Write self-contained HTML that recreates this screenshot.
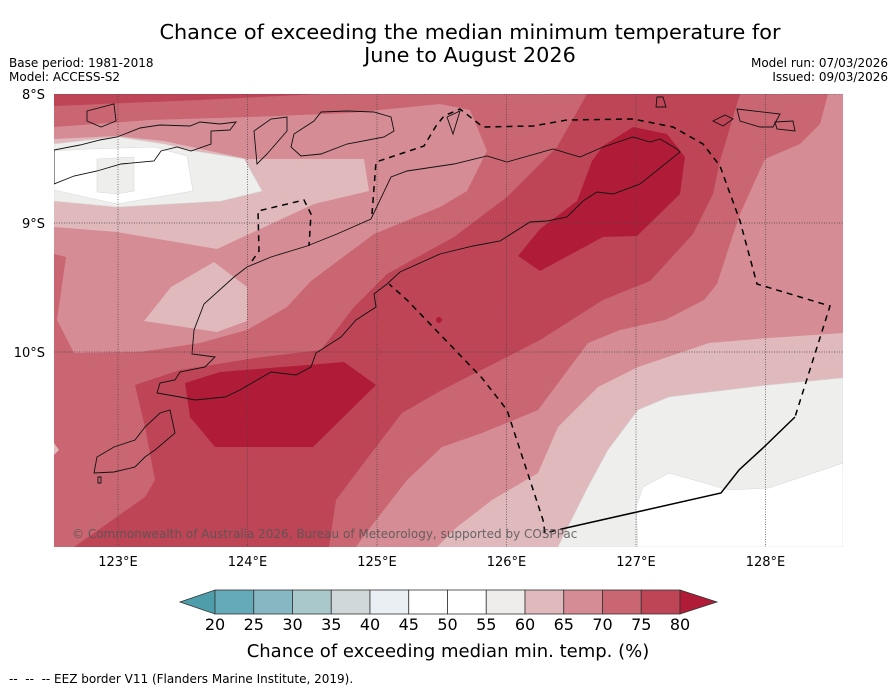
<!DOCTYPE html>
<html><head><meta charset="utf-8">
<style>
html,body{margin:0;padding:0;background:#fff;}
body{width:896px;height:690px;overflow:hidden;font-family:"DejaVu Sans","Liberation Sans",sans-serif;}
svg text{font-family:"DejaVu Sans","Liberation Sans",sans-serif;}
</style></head>
<body>
<svg id="fig" width="896" height="690" viewBox="0 0 896 690" xmlns="http://www.w3.org/2000/svg">
<text x="470" y="39" font-size="20.8" text-anchor="middle" fill="#000">Chance of exceeding the median minimum temperature for</text>
<text x="470" y="62" font-size="20.8" text-anchor="middle" fill="#000">June to August 2026</text>
<text x="9" y="67" font-size="12">Base period: 1981-2018</text>
<text x="9" y="81" font-size="12">Model: ACCESS-S2</text>
<text x="888" y="67" font-size="12" text-anchor="end">Model run: 07/03/2026</text>
<text x="888" y="81" font-size="12" text-anchor="end">Issued: 09/03/2026</text>

<defs><clipPath id="mapclip"><rect x="54" y="94" width="789" height="453"/></clipPath></defs>
<g clip-path="url(#mapclip)">
<rect x="54" y="94" width="789" height="453" fill="#c96672"/>
<polygon fill="#bd4556" points="54,94 320,94 200,100 54,106"/>
<polygon fill="#d58c94" points="54,127 150,120 250,117 350,113 440,104 470,110 487,151 467,191 440,207 374,234 311,281 287,307 247,330 200,343 140,352 74,353 57,320 66,257 54,254"/>
<polygon fill="#e0b9bd" points="54,139 117,136 164,141 247,159 364,159 369,191 314,204 217,249 117,232 54,227"/>
<polygon fill="#e0b9bd" points="144,321 171,287 214,262 247,287 247,321 217,332"/>
<polygon fill="#eeeeec" stroke="#d8dcdc" stroke-width="0.6" points="54,144 117,137 164,144 194,151 244,159 262,191 221,201 117,207 54,201"/>
<polygon fill="#ffffff" stroke="#d8dcdc" stroke-width="0.6" points="54,151 90,149 154,147 187,156 193,191 117,204 54,190"/>
<polygon fill="#eeeeec" stroke="#d8dcdc" stroke-width="0.6" points="97,159 134,157 134,191 117,194 97,192"/>
<polygon fill="#bd4556" points="587,94 740,94 720,161 713,194 693,234 650,281 603,300 540,340 507,357 442,390 402,413 366,460 336,500 329,547 74,547 145,497 155,480 145,427 135,385 180,370 255,358 321,350 354,307 387,274 454,237 507,197 557,147"/>
<polygon fill="#b01c38" points="633,127 667,134 685,157 680,194 637,236 603,237 540,271 518,256 540,229 577,201 592,161 603,146"/>
<polygon fill="#b01c38" points="185,383 220,372 344,362 376,385 313,447 215,447 190,417"/>
<circle cx="439" cy="320" r="3" fill="#b01c38"/>
<polygon fill="#d58c94" points="828,94 843,94 843,547 356,547 366,533 407,480 442,447 482,433 538,410 588,343 620,330 665,320 704,300 717,284 730,244 740,214 765,159 800,144 820,124"/>
<polygon fill="#e0b9bd" points="843,333 769,338 709,343 638,367 598,387 558,427 538,473 492,500 457,527 437,547 843,547"/>
<polygon fill="#eeeeec" stroke="#d8dcdc" stroke-width="0.6" points="843,378 769,385 669,397 638,410 608,450 588,487 568,527 558,547 843,547"/>
<polygon fill="#ffffff" stroke="#d8dcdc" stroke-width="0.6" points="843,463 769,488 729,490 669,473 643,487 636,507 638,547 843,547"/>
<polygon fill="#e0b9bd" points="54,443 59,450 54,455"/>

<g id="grid" stroke="#444" stroke-width="0.7" stroke-dasharray="1,1.5" fill="none"></g>

<g fill="none" stroke="#111" stroke-width="0.9">
<polygon points="180,397 157,393 160,383 175,380 180,372 205,367 215,357 192,354 194,330 204,304 234,277 247,267 271,257 307,246 337,234 371,219 391,177 407,171 454,164 487,156 507,162 553,149 580,157 603,147 633,137 650,142 660,139 677,149 680,152 640,184 613,194 597,192 583,201 567,217 547,221 530,222 500,241 473,246 440,254 400,272 387,284 374,294 376,307 356,320 341,337 316,353 311,367 296,375 271,372 240,390 225,397 195,400"/>
<polygon points="170,410 175,433 155,450 145,457 135,467 114,472 94,473 97,457 114,447 135,440 145,427 160,413"/>
<polygon points="98,477 101,477 101,483 98,483"/>
<polygon points="54,150 80,145 100,140 117,137 140,128 160,125 190,126 200,122 220,124 236,122 230,130 211,131 211,144 191,151 177,147 161,151 154,161 121,164 97,171 74,176 54,184"/>
<polygon points="291,147 294,134 314,121 321,112 347,111 374,112 391,117 394,131 384,137 347,144 321,154 301,156"/>
<polygon points="254,131 271,119 287,117 287,131 267,154 257,164"/>
<polygon points="87,111 114,104 116,121 101,127 87,121"/>
<polygon points="657,97 663,97 666,107 656,107"/>
<polygon points="737,109 780,114 773,127 760,127 740,121"/>
<polygon points="713,121 725,115 733,119 723,126"/>
<polygon points="775,122 793,121 795,131 777,129"/>
<polygon points="447,117 460,111 453,134"/>
</g>

<g fill="none" stroke="#000" stroke-width="1.5">
<polyline stroke-dasharray="6,5" points="372,214 376,162 424,146 436,126 444,116 460,109 483,127 533,126 567,120 633,119 673,127 703,144 720,166 740,221 757,284 830,306 795,417"/>
<polyline points="795,417 764,447 739,470 721,493 566,528"/>
<polyline stroke-dasharray="6,5" points="566,528 545,533 543,520 507,410 482,378 407,300 389,284"/>
<polyline stroke-dasharray="6,5" points="252,261 259,251 258,211 304,200 311,214 309,246"/>
</g>
<text x="72" y="538" font-size="12" fill="#555" fill-opacity="0.85">© Commonwealth of Australia 2026, Bureau of Meteorology, supported by COSPPac</text>
</g>

<g id="axes" font-size="13" fill="#000"></g>
<g id="cbar"></g>
<text x="448" y="657" font-size="18" text-anchor="middle">Chance of exceeding median min. temp. (%)</text>
<text x="9" y="683" font-size="12" xml:space="preserve">--  --  -- EEZ border V11 (Flanders Marine Institute, 2019).</text>
</svg>
<script>
const lonTicks = [123, 124, 125, 126, 127, 128];
const latTicks = [8, 9, 10];
const cbLevels = [20, 25, 30, 35, 40, 45, 50, 55, 60, 65, 70, 75, 80];
const cbColors = ["#64aab8", "#87b7c2", "#a8c8cc", "#d0d7d9", "#e9eff2", "#ffffff", "#ffffff", "#eeedeb", "#e0b9bd", "#d58c94", "#c96672", "#bd4556"];
const cbUnder = "#4d9dab";
const cbOver = "#b01c38";

const NS = "http://www.w3.org/2000/svg";
function lonX(lon){ return 118 + (lon - 123) * 129.5; }
function latY(lat){ return 94 + (lat - 8) * 129; }
function cbX(v){ return 215 + (v - 20) / 60 * 465; }
function mk(tag, attrs, parent){
  const e = document.createElementNS(NS, tag);
  for (const k in attrs) e.setAttribute(k, attrs[k]);
  parent.appendChild(e);
  return e;
}
const grid = document.getElementById('grid');
const axes = document.getElementById('axes');
lonTicks.forEach(function(l){
  const ln = mk('line', {x1: lonX(l), x2: lonX(l), y1: 94, y2: 547}, grid);
  
  
  const t = mk('text', {x: lonX(l), y: 566, 'text-anchor': 'middle'}, axes);
  t.textContent = l + '°E';
  
  
});
latTicks.forEach(function(l){
  const ln = mk('line', {x1: 54, x2: 843, y1: latY(l), y2: latY(l)}, grid);
  
  
  const t = mk('text', {x: 45, y: latY(l) + 5, 'text-anchor': 'end'}, axes);
  t.textContent = l + '°S';
  
  
});
const cb = document.getElementById('cbar');
const y0 = 590, y1 = 614;
const under = mk('polygon', {points: '180,' + (y0+y1)/2 + ' ' + cbX(20) + ',' + y0 + ' ' + cbX(20) + ',' + y1, fill: cbUnder, stroke: '#333', 'stroke-width': 0.8}, cb);


cbColors.forEach(function(c, i){
  const r = mk('rect', {x: cbX(cbLevels[i]), y: y0, width: cbX(cbLevels[i+1]) - cbX(cbLevels[i]), height: y1 - y0, fill: c, stroke: '#333', 'stroke-width': 0.8}, cb);
  
  
});
const over = mk('polygon', {points: cbX(80) + ',' + y0 + ' 717,' + (y0+y1)/2 + ' ' + cbX(80) + ',' + y1, fill: cbOver, stroke: '#333', 'stroke-width': 0.8}, cb);


cbLevels.forEach(function(v){
  const t = mk('text', {x: cbX(v), y: 630, 'text-anchor': 'middle', 'font-size': 16}, cb);
  t.textContent = v;
  
  
});
</script>
</body></html>
